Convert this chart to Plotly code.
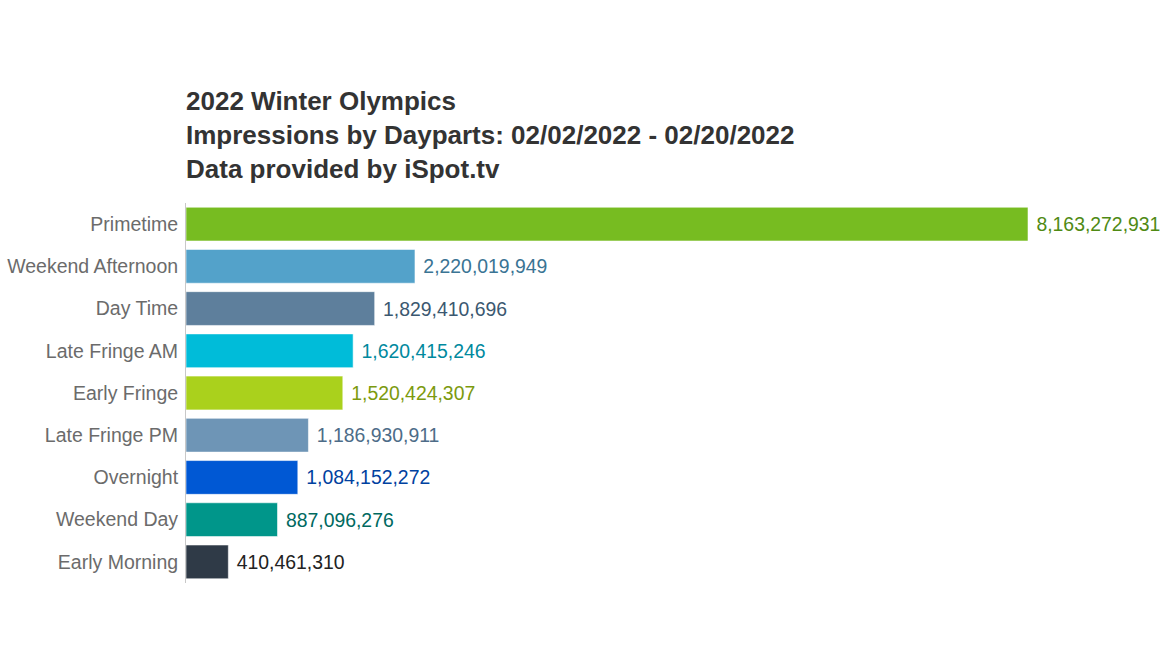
import plotly.graph_objects as go

categories = ["Primetime", "Weekend Afternoon", "Day Time", "Late Fringe AM", "Early Fringe",
              "Late Fringe PM", "Overnight", "Weekend Day", "Early Morning"]
impressions = [8163272931, 2220019949, 1829410696, 1620415246, 1520424307,
               1186930911, 1084152272, 887096276, 410461310]
bar_colors = ["#77bc21", "#53a2ca", "#5e7f9c", "#00bcd9", "#aad11c",
              "#6e95b6", "#0058d4", "#00968a", "#2f3a47"]
label_colors = ["#4f8a14", "#3a7494", "#3b5870", "#00899e", "#7c9a0e",
                "#4d6c88", "#0041a0", "#00695f", "#222222"]

FONT = "Liberation Sans, Arial, sans-serif"

fig = go.Figure(go.Bar(
    x=impressions,
    y=categories,
    orientation="h",
    marker=dict(color=bar_colors, line=dict(color="rgba(255,255,255,0.55)", width=1)),
    text=["\u00a0" + f"{v:,}" for v in impressions],
    textposition="outside",
    textfont=dict(color=label_colors, size=19.4, family=FONT),
    cliponaxis=False,
    hoverinfo="x+y",
))

fig.update_layout(
    width=1171, height=659,
    margin=dict(l=186, r=143, t=203, b=76),
    paper_bgcolor="white", plot_bgcolor="white",
    bargap=0.2,
    showlegend=False,
    font=dict(family=FONT),
    title=dict(
        text="<b>2022 Winter Olympics<br>Impressions by Dayparts: 02/02/2022 - 02/20/2022<br>Data provided by iSpot.tv</b>",
        x=186 / 1171, xanchor="left", xref="container",
        y=1 - 110 / 659, yanchor="top", yref="container",
        font=dict(size=26, color="#333333", family=FONT),
    ),
    xaxis=dict(range=[0, max(impressions)], visible=False, showgrid=False, zeroline=False,
               automargin=False),
    yaxis=dict(
        autorange="reversed",
        automargin=False,
        showline=True, linecolor="#c8c8c8", linewidth=1,
        showgrid=False, zeroline=False, ticks="",
        ticklabelstandoff=3,
        tickfont=dict(size=19.5, color="#6b6b6b", family=FONT),
    ),
)

fig.write_html("out.html")
